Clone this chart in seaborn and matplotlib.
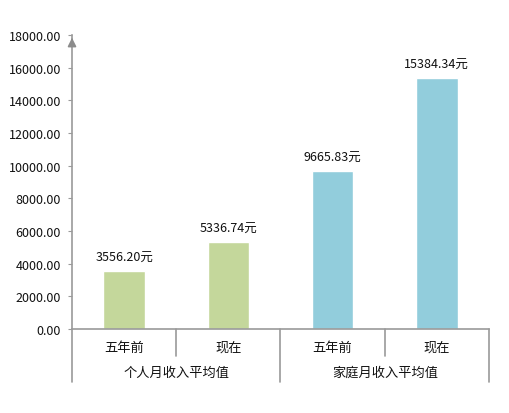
import matplotlib
matplotlib.use("Agg")
import matplotlib.pyplot as plt
import matplotlib.transforms as mtransforms
import seaborn as sns
import pandas as pd

groups = ["个人月收入平均值", "个人月收入平均值", "家庭月收入平均值", "家庭月收入平均值"]
periods = ["五年前", "现在", "五年前", "现在"]
values = [3556.20, 5336.74, 9665.83, 15384.34]
bar_colors = ["#c4d79b", "#c4d79b", "#92cddc", "#92cddc"]

df = pd.DataFrame({"key": [g + p for g, p in zip(groups, periods)],
                   "group": groups, "period": periods, "value": values})

sns.set_style("white")
plt.rcParams["font.family"] = ["Noto Sans CJK SC", "DejaVu Sans"]

fig = plt.figure(figsize=(5.09, 4.14), dpi=100)
ax = fig.add_axes([0.1415, 0.203, 0.819, 0.710])

sns.barplot(data=df, x="key", y="value", hue="key", palette=bar_colors,
            width=0.4, saturation=1, legend=False, ax=ax)

ax.set_ylim(0, 18000)
ax.set_xlim(-0.5, 3.5)
ax.set_yticks(range(0, 18001, 2000))
ax.set_yticklabels([f"{v:.2f}" for v in range(0, 18001, 2000)], fontsize=9, color="#111111")
ax.set_xticks([])
ax.set_xlabel("")
ax.set_ylabel("")
ax.tick_params(axis="y", length=3, color="#9a9a9a", direction="out", pad=5, left=True)

for side in ["top", "right"]:
    ax.spines[side].set_visible(False)
ax.spines["left"].set_color("#9a9a9a")
ax.spines["bottom"].set_color("#9a9a9a")
ax.spines["left"].set_linewidth(1.2)
ax.spines["bottom"].set_linewidth(1.2)

# arrow at the top of the y axis
ax.annotate("", xy=(0, 1.0), xytext=(0, 0.97), xycoords="axes fraction",
            arrowprops=dict(arrowstyle="-|>,head_width=0.25,head_length=0.5",
                            color="#8c8c8c", lw=1.2), annotation_clip=False)

# value labels
for i, v in enumerate(values):
    ax.text(i, v + 450, f"{v:.2f}元", ha="center", va="bottom", fontsize=9, color="#111111")

# two-level category axis
trans = mtransforms.blended_transform_factory(ax.transData, ax.transAxes)
for i, p in enumerate(periods):
    ax.text(i, -0.062, p, transform=trans, ha="center", va="center", fontsize=9.5, color="#111111")
for xb in [0.5, 2.5]:
    ax.plot([xb, xb], [0, -0.092], transform=trans, color="#9a9a9a", lw=1.2, clip_on=False)
for xb in [-0.5, 1.5, 3.5]:
    ax.plot([xb, xb], [0, -0.18], transform=trans, color="#9a9a9a", lw=1.2, clip_on=False)
ax.text(0.5, -0.147, "个人月收入平均值", transform=trans, ha="center", va="center", fontsize=9.5, color="#111111")
ax.text(2.5, -0.147, "家庭月收入平均值", transform=trans, ha="center", va="center", fontsize=9.5, color="#111111")

fig.savefig("out.png", dpi=100)
